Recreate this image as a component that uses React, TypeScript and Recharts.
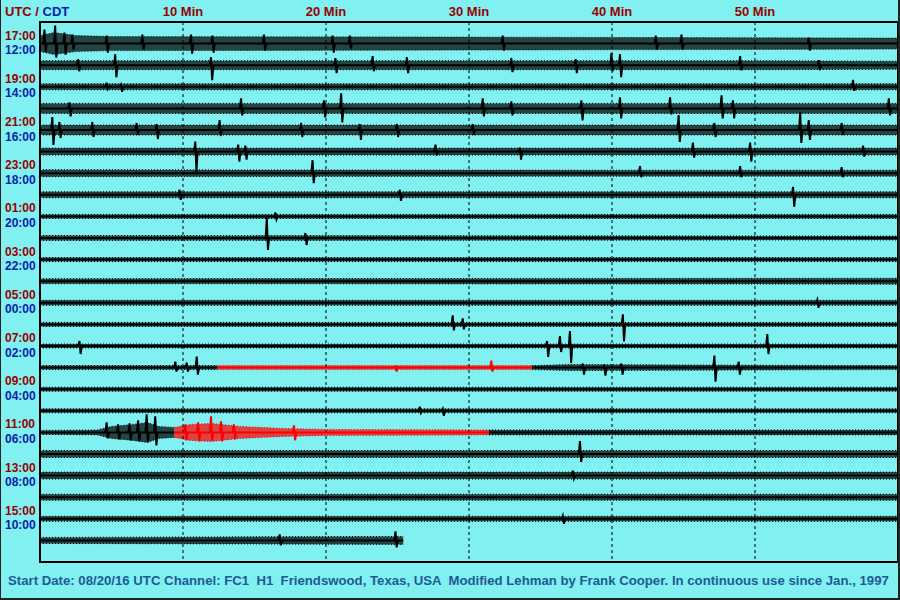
import { ComposedChart, Area, Line, XAxis, YAxis, ReferenceLine, ReferenceArea } from "recharts"

// amplitudes below are read in pixels of the original, one trace spacing = ROW_PX
const ROW_PX = 21.6

const utcLabels = ["17:00", "19:00", "21:00", "23:00", "01:00", "03:00", "05:00", "07:00", "09:00", "11:00", "13:00", "15:00"]
const cdtLabels = ["12:00", "14:00", "16:00", "18:00", "20:00", "22:00", "00:00", "02:00", "04:00", "06:00", "08:00", "10:00"]
const minuteTicks = [10, 20, 30, 40, 50]

// background noise envelope per trace: [minute, half amplitude]
const noiseKnots: number[][][] = [
  [[0, 8], [1, 11], [2.5, 8], [5, 7], [30, 6.5], [45, 6], [60, 5.5]],
  [[0, 4.5], [50, 4.5], [60, 4]],
  [[0, 3], [60, 3]],
  [[0, 5], [60, 5]],
  [[0, 5], [60, 5]],
  [[0, 3.5], [60, 3.5]],
  [[0, 3.5], [40, 3], [60, 3]],
  [[0, 3], [60, 3]],
  [[0, 2], [60, 2]],
  [[0, 2.5], [60, 2]],
  [[0, 2], [60, 2]],
  [[0, 2.5], [60, 3]],
  [[0, 2.5], [60, 2.5]],
  [[0, 2], [60, 2]],
  [[0, 2], [60, 2]],
  [[0, 2], [12.4, 2], [34.4, 2], [37, 3], [60, 2]],
  [[0, 2], [60, 2]],
  [[0, 2], [60, 2]],
  [[0, 2], [4, 2.5], [5, 6], [6.5, 8], [7.5, 10], [8.3, 6], [9.4, 5], [10.5, 8], [12, 9], [14, 6], [17, 4], [20, 3], [31.4, 2.5], [60, 2.5]],
  [[0, 3.5], [60, 3.5]],
  [[0, 3.5], [60, 3.5]],
  [[0, 3], [60, 3]],
  [[0, 2.5], [60, 2.5]],
  [[0, 3], [12, 3.5], [25.4, 4]],
]

// larger wiggles per trace: [minute, up, down]
const spikes: number[][][] = [
  [[0.35, 14, 8], [1.1, 18, 14], [1.75, 11, 11], [2.3, 9, 6], [4.7, 8, 9], [7.2, 9, 6], [10.6, 9, 10], [12.1, 8, 9], [15.7, 9, 7], [20.5, 8, 9], [21.7, 8, 5], [32.4, 8, 7], [43.1, 8, 6], [44.9, 9, 6], [53.8, 6, 7]],
  [[2.7, 6, 6], [5.3, 11, 12], [12, 8, 15], [20.7, 7, 8], [23.3, 9, 6], [25.7, 8, 8], [33, 7, 7], [37.5, 6, 8], [40, 12, 6], [40.6, 11, 12], [49, 9, 5], [54.5, 5, 5]],
  [[4.7, 4, 2], [5.7, 2, 5], [56.9, 7, 4]],
  [[2.1, 6, 8], [14.1, 10, 7], [19.9, 8, 9], [21.1, 15, 14], [31, 10, 8], [33, 7, 7], [37.9, 8, 12], [40.6, 11, 10], [44.1, 11, 6], [47.7, 13, 10], [48.5, 8, 10], [59.4, 10, 7]],
  [[0.9, 13, 15], [1.4, 8, 8], [3.7, 8, 7], [6.8, 7, 5], [8.2, 6, 9], [12.6, 10, 6], [18.3, 7, 7], [22.4, 6, 10], [25, 6, 7], [30.3, 6, 5], [44.7, 15, 12], [47.2, 7, 7], [53.2, 18, 13], [53.8, 10, 10], [56.1, 7, 5]],
  [[10.9, 10, 20], [13.9, 7, 10], [14.4, 6, 8], [27.7, 7, 4], [33.6, 4, 8], [45.7, 9, 6], [49.7, 9, 10], [57.6, 6, 5]],
  [[19.1, 13, 10], [42, 7, 4], [49, 7, 4], [56.1, 6, 4]],
  [[9.8, 5, 5], [25.2, 5, 6], [52.7, 8, 12]],
  [[16.5, 4, 3]],
  [[15.9, 20, 12], [18.6, 5, 7]],
  [],
  [],
  [[54.4, 3, 5]],
  [[28.9, 9, 6], [29.6, 6, 5], [40.8, 10, 17]],
  [[2.8, 5, 8], [35.5, 5, 11], [36.4, 10, 6], [37.1, 15, 17], [50.9, 12, 8]],
  [[9.5, 6, 4], [10.3, 5, 4], [11, 11, 7], [24.9, 1, 4], [31.6, 7, 4], [38, 4, 7], [39.5, 3, 8], [40.7, 4, 7], [47.2, 12, 14], [48.9, 6, 7]],
  [],
  [[26.6, 4, 2], [28.2, 2, 5]],
  [[4.7, 10, 6], [5.5, 8, 7], [6.3, 9, 8], [6.9, 12, 9], [7.5, 18, 10], [8.1, 16, 13], [10.2, 8, 8], [11.1, 10, 9], [12, 16, 8], [12.7, 11, 9], [13.6, 8, 7], [17.8, 7, 8]],
  [[37.8, 13, 8]],
  [[37.3, 5, 3]],
  [],
  [[36.6, 3, 5]],
  [[16.8, 6, 5], [24.9, 9, 7]],
]

// [trace, from minute, to minute] drawn in red
const redSpans = [
  [15, 12.4, 34.4],
  [18, 9.4, 31.4],
]

const BG = "#80F0F0"
const UTC_RED = "#990000"
const CDT_BLUE = "#0a22aa"
const FOOT_BLUE = "#1f5a96"
const FONT = "'Liberation Sans', Arial, sans-serif"

type Pt = { t: number; [k: string]: any }

function splitSpan(points: Pt[], key: string, span?: number[]) {
  if (!span) return { black: points, red: [] as Pt[] }
  const [, from, to] = span
  const black = [
    ...points.filter((p) => p.t <= from),
    { t: (from + to) / 2, [key]: null },
    ...points.filter((p) => p.t >= to),
  ]
  const red = points.filter((p) => p.t >= from && p.t <= to)
  return { black, red }
}

const traces = noiseKnots.map((knots, i) => {
  const off = -i
  const span = redSpans.find((s) => s[0] === i)
  const band: Pt[] = knots.map(([t, a]) => ({ t, band: [off - a / ROW_PX, off + a / ROW_PX] }))
  const start = knots[0][0]
  const end = knots[knots.length - 1][0]
  const line: Pt[] = [{ t: start, y: off }, { t: end, y: off }]
  if (span) line.push({ t: span[1], y: off }, { t: span[2], y: off })
  spikes[i].forEach(([t, up, down]) => {
    line.push(
      { t: t - 0.12, y: off },
      { t: t - 0.04, y: off + up / ROW_PX },
      { t: t + 0.04, y: off - down / ROW_PX },
      { t: t + 0.12, y: off },
    )
  })
  line.sort((a, b) => a.t - b.t)
  return { i, band: splitSpan(band, "band", span), line: splitSpan(line, "y", span) }
})

const MinuteTick = ({ x, payload }: any) => (
  <text x={x} y={16} textAnchor="middle" fill={UTC_RED} fontSize={13} fontWeight="bold" fontFamily={FONT}>
    {payload.value} Min
  </text>
)

const HourTick = ({ y, payload }: any) => {
  const idx = Math.round(-payload.value / 2)
  return (
    <g>
      <text x={5} y={y - 4} fill={UTC_RED} fontSize={12} fontWeight="bold" fontFamily={FONT}>
        {utcLabels[idx]}
      </text>
      <text x={5} y={y + 10.5} fill={CDT_BLUE} fontSize={12} fontWeight="bold" fontFamily={FONT}>
        {cdtLabels[idx]}
      </text>
    </g>
  )
}

export default function App() {
  return (
    <div style={{ position: "relative", width: 900, height: 600, background: BG }}>
      <style>{"body{margin:0}"}</style>
      <ComposedChart width={900} height={600} margin={{ top: 0, right: 2, bottom: 38, left: 0 }}>
        <XAxis
          type="number"
          dataKey="t"
          domain={[0, 60]}
          ticks={minuteTicks}
          orientation="top"
          height={22}
          axisLine={false}
          tickLine={false}
          tick={<MinuteTick />}
          allowDataOverflow
        />
        <YAxis
          type="number"
          domain={[-24, 1]}
          ticks={utcLabels.map((_, i) => -2 * i)}
          width={40}
          axisLine={false}
          tickLine={false}
          tick={<HourTick />}
          allowDataOverflow
        />
        {minuteTicks.map((m) => (
          <ReferenceLine key={`g${m}`} x={m} stroke="#000" strokeDasharray="3 3" />
        ))}
        {traces.map((tr) => (
          <Area
            key={`bb${tr.i}`}
            data={tr.band.black}
            dataKey="band"
            type="linear"
            stroke="#000"
            strokeWidth={1}
            strokeDasharray="1 2"
            fill="#000"
            fillOpacity={0.72}
            isAnimationActive={false}
            activeDot={false}
          />
        ))}
        {traces
          .filter((tr) => tr.band.red.length > 0)
          .map((tr) => (
            <Area
              key={`br${tr.i}`}
              data={tr.band.red}
              dataKey="band"
              type="linear"
              stroke="#ff0000"
              strokeWidth={1}
              strokeDasharray="1 2"
              fill="#ff0000"
              fillOpacity={0.72}
              isAnimationActive={false}
              activeDot={false}
            />
          ))}
        {traces.map((tr) => (
          <Line
            key={`lb${tr.i}`}
            data={tr.line.black}
            dataKey="y"
            type="linear"
            stroke="#000"
            strokeWidth={2}
            dot={false}
            activeDot={false}
            isAnimationActive={false}
          />
        ))}
        {traces
          .filter((tr) => tr.line.red.length > 0)
          .map((tr) => (
            <Line
              key={`lr${tr.i}`}
              data={tr.line.red}
              dataKey="y"
              type="linear"
              stroke="#ff0000"
              strokeWidth={2}
              dot={false}
              activeDot={false}
              isAnimationActive={false}
            />
          ))}
        <ReferenceArea x1={0} x2={60} y1={-24} y2={1} fill="none" stroke="#000" strokeWidth={2} />
      </ComposedChart>
      <svg
        width={900}
        height={600}
        style={{ position: "absolute", left: 0, top: 0, pointerEvents: "none" }}
      >
        <text x={5} y={16} fontSize={13} fontWeight="bold" fontFamily={FONT}>
          <tspan fill={UTC_RED}>UTC / </tspan>
          <tspan fill={CDT_BLUE}>CDT</tspan>
        </text>
        <text x={8} y={585} fontSize={13.2} fontWeight="bold" fontFamily={FONT} fill={FOOT_BLUE} style={{ whiteSpace: "pre" }}>
          {"Start Date: 08/20/16 UTC Channel: FC1  H1  Friendswood, Texas, USA  Modified Lehman by Frank Cooper. In continuous use since Jan., 1997"}
        </text>
        <line x1={0.5} y1={0} x2={0.5} y2={600} stroke="#222" />
        <line x1={899} y1={0} x2={899} y2={600} stroke="#222" strokeWidth={2} />
        <line x1={0} y1={599} x2={900} y2={599} stroke="#222" strokeWidth={2} />
      </svg>
    </div>
  )
}
